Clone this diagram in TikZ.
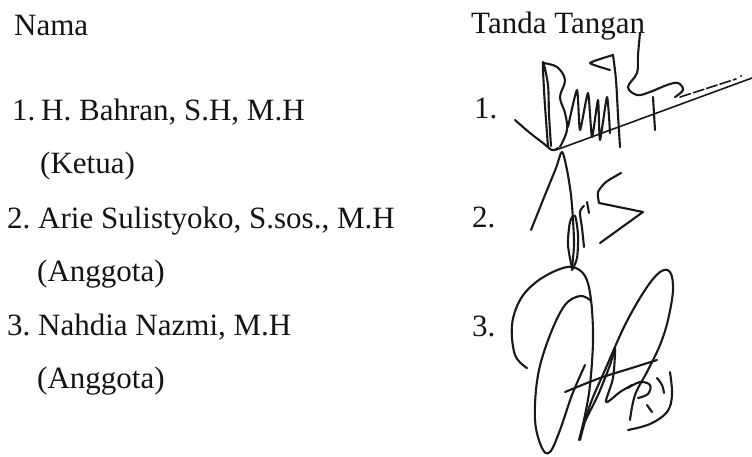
\documentclass[tikz,border=0pt]{standalone}
\usepackage{fontspec}
\setmainfont{Liberation Serif}
\begin{document}
\begin{tikzpicture}[x=1pt,y=-1pt,
  txt/.style={anchor=base west,inner sep=0pt,font=\fontsize{31}{36}\selectfont,text=black!92},
  sig/.style={line width=2.1pt,line cap=round,line join=round,black!90}]
\useasboundingbox[fill=white] (0,0) rectangle (752,456);
% left column
\node[txt] (nama) at (14,35) {Nama};
\node[txt] (n1) at (12,120) {1.};
\node[txt] (t1) at (41,120) {H. Bahran, S.H, M.H};
\node[txt] (k1) at (40,173) {(Ketua)};
\node[txt] (n2) at (7,228) {2.};
\node[txt] (t2) at (38,228) {Arie Sulistyoko, S.sos., M.H};
\node[txt] (k2) at (37,281) {(Anggota)};
\node[txt] (n3) at (7,335) {3.};
\node[txt] (t3) at (38,335) {Nahdia Nazmi, M.H};
\node[txt] (k3) at (37,388) {(Anggota)};
% right column
\node[txt] (tt) at (471,33) {Tanda Tangan};
\node[txt] (r1) at (474,118) {1.};
\node[txt] (r2) at (472,227) {2.};
\node[txt] (r3) at (472,336) {3.};
% signature 1
\draw[sig] plot[smooth,tension=0.6] coordinates {(515,120) (530,133) (543,143) (552,150) (558,148)};
\draw[sig] plot[smooth,tension=0.5] coordinates {(548,147) (546,120) (544,90) (543,62) (548,85) (549,115) (551,146)};
\draw[sig] plot[smooth,tension=0.6] coordinates {(543,63) (557,67) (565,80) (560,97) (565,113) (567,130) (560,147)};
\draw[sig] plot[smooth,tension=0.35] coordinates {(568,127) (577,90) (580,130) (588,93) (592,137) (598,100) (600,140) (607,97) (610,133)};
\draw[sig] plot[smooth,tension=0.3] coordinates {(610,70) (590,63) (613,55)};
\draw[sig] plot[smooth,tension=0.5] coordinates {(613,55) (616,80) (618,115) (620,147)};
\draw[sig] plot[smooth,tension=0.6] coordinates {(640,33) (638,55) (637,73) (628,87) (637,95) (650,92) (667,85) (678,83) (683,90) (675,97)};
\draw[sig] (653,97) -- (655,130);
\draw[sig,line width=1.6pt] (556,150) -- (752,78);
\draw[sig,line width=1.6pt,dash pattern=on 11pt off 3pt] (680,97) -- (736,79);
\fill[black!90] (741,76) circle (1.1pt);
% signature 2
\draw[sig] plot[smooth,tension=0.5] coordinates {(531,230) (545,195) (556,168) (562,152) (567,170) (571,195) (573,220) (574,245) (572,268)};
\draw[sig] plot[smooth,tension=0.5] coordinates {(572,268) (568,245) (570,222) (575,216) (578,235) (577,258) (572,270)};
\draw[sig] plot[smooth,tension=0.5] coordinates {(584,247) (582,228) (580,212) (584,206)};
\draw[sig] (587,202) -- (589,213);
\draw[sig] plot[smooth,tension=0.4] coordinates {(621,173) (606,182) (598,192) (599,203)};
\draw[sig] (599,203) -- (643,212) -- (600,243);
% signature 3
\draw[sig] plot[smooth,tension=0.6] coordinates {(527,368) (515,355) (512,325) (520,300) (535,283) (555,271) (572,267) (585,276) (591,300) (593,340) (590,385) (585,415) (579,440)};
\draw[sig] plot[smooth,tension=0.6] coordinates {(590,300) (580,296) (565,305) (550,335) (538,375) (535,420) (542,448) (550,452) (560,430) (572,395) (585,365)};
\draw[sig] plot[smooth,tension=0.6] coordinates {(580,440) (590,405) (605,370) (625,325) (645,290) (660,272) (670,272) (673,290) (668,320) (660,345) (648,370) (635,395) (630,420)};
\draw[sig] plot[smooth,tension=0.5] coordinates {(565,392) (600,378) (635,367) (657,360)};
\draw[sig] plot[smooth,tension=0.5] coordinates {(583,425) (598,395) (610,365) (615,348) (613,378) (606,402) (620,392) (632,385)};
\draw[sig] plot[smooth,tension=0.6] coordinates {(628,388) (640,382) (650,385) (648,394) (638,398)};
\draw[sig] plot[smooth,tension=0.6] coordinates {(657,378) (662,385) (664,393)};
\draw[sig] plot[smooth,tension=0.6] coordinates {(670,372) (672,395) (667,412) (650,424) (628,430)};
\draw[sig] (647,405) -- (652,412);
\end{tikzpicture}
\end{document}
